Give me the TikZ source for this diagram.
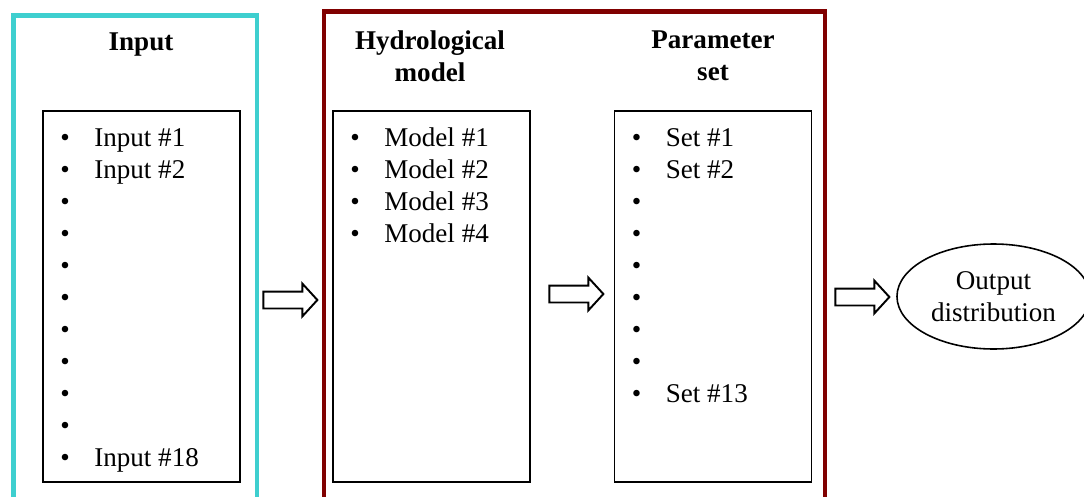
\documentclass[tikz,border=0pt]{standalone}
\usepackage{fontspec}
\setmainfont{Liberation Serif}
\usepackage{tikz}
\usetikzlibrary{shapes.geometric, shapes.arrows, positioning}
\definecolor{inputTeal}{HTML}{3ECFCF}
\definecolor{modelRed}{HTML}{800000}
\newcommand{\diagfont}{\fontsize{15.4pt}{18.2pt}\selectfont}

\begin{document}
\begin{tikzpicture}[
    listbox/.style={rectangle, draw=black, line width=1.1pt, minimum width=3.94cm, minimum height=7.42cm},
    listtext/.style={inner sep=0pt, font=\diagfont},
    heading/.style={align=center, inner sep=0pt, font=\diagfont\bfseries},
    fatarrow/.style={single arrow, draw=black, line width=1.1pt, fill=white, inner xsep=0pt, inner ysep=0.15cm,
                     minimum height=1.08cm, single arrow head extend=0.16cm,
                     single arrow tip angle=95},
]
\useasboundingbox (0,0) rectangle (21.68,9.92);

% Input frame
\draw[inputTeal, line width=2.8pt] (0.27,-0.3) -- (0.27,9.61) -- (5.14,9.61) -- (5.14,-0.3);
\node[heading] (intitle) at (2.82,9.02) {Input};
\node[listbox] (inbox) at (2.83,3.99) {};
\node[listtext, below right=0.27cm and 0.36cm of inbox.north west] (inlist) {%
\begin{tabular}{@{}l@{\hspace{0.49cm}}l@{}}
\textbullet & Input \#1\\
\textbullet & Input \#2\\
\textbullet & \\
\textbullet & \\
\textbullet & \\
\textbullet & \\
\textbullet & \\
\textbullet & \\
\textbullet & \\
\textbullet & \\
\textbullet & Input \#18
\end{tabular}};

% Model frame (model + parameter set)
\draw[modelRed, line width=2.6pt] (6.48,-0.3) -- (6.48,9.69) -- (16.5,9.69) -- (16.5,-0.3);
\node[heading] (modtitle) at (8.6,8.8) {Hydrological\\model};
\node[listbox] (modbox) at (8.63,3.99) {};
\node[listtext, below right=0.27cm and 0.36cm of modbox.north west] (modlist) {%
\begin{tabular}{@{}l@{\hspace{0.49cm}}l@{}}
\textbullet & Model \#1\\
\textbullet & Model \#2\\
\textbullet & Model \#3\\
\textbullet & Model \#4
\end{tabular}};

\node[heading] (settitle) at (14.26,8.8) {Parameter\\set};
\node[listbox] (setbox) at (14.26,3.99) {};
\node[listtext, below right=0.27cm and 0.36cm of setbox.north west] (setlist) {%
\begin{tabular}{@{}l@{\hspace{0.49cm}}l@{}}
\textbullet & Set \#1\\
\textbullet & Set \#2\\
\textbullet & \\
\textbullet & \\
\textbullet & \\
\textbullet & \\
\textbullet & \\
\textbullet & \\
\textbullet & Set \#13
\end{tabular}};

% Output
\node[ellipse, draw=black, line width=0.9pt, minimum width=3.54cm, minimum height=2.1cm,
      align=center, font=\diagfont] (out) at (19.87,3.99) {Output\\distribution};

% Block arrows
\node[fatarrow] (arrin) at (5.73,3.92) {};
\node[fatarrow] (arrset) at (11.45,4.04) {};
\node[fatarrow] (arrout) at (17.17,3.98) {};
\end{tikzpicture}
\end{document}
